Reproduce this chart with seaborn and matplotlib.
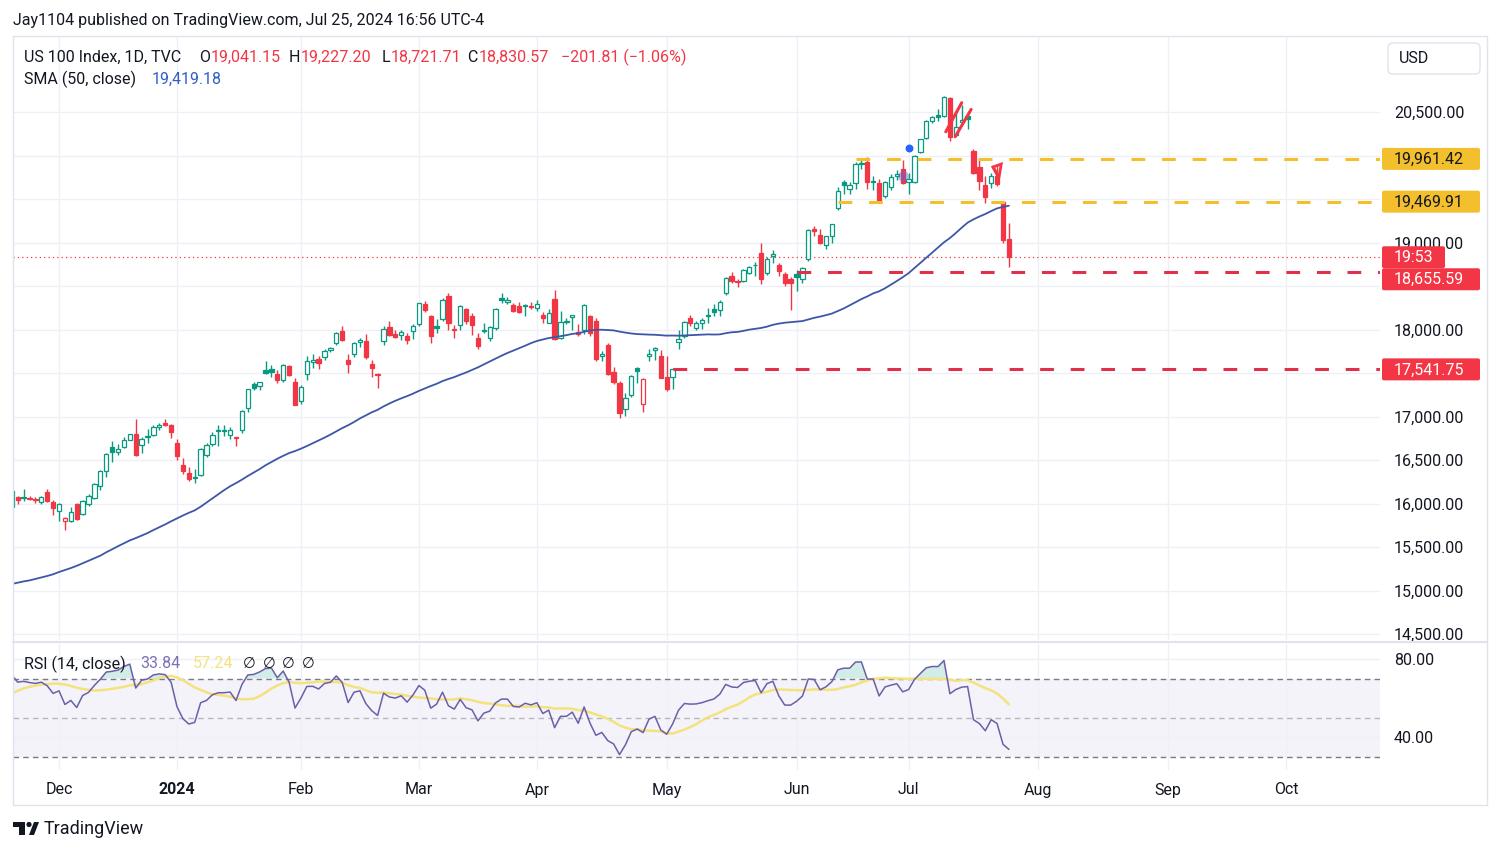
import numpy as np
import pandas as pd
import matplotlib
matplotlib.use('Agg')
import matplotlib.pyplot as plt
from matplotlib.patches import Rectangle, FancyBboxPatch, Polygon
import seaborn as sns

# daily closes before the visible window (2023-09-01 .. 2023-11-17), only used to warm up SMA / RSI
pre_closes = [15413, 15440, 15298, 15207, 15227,
              15461, 15277, 15365, 15475, 15202,
              15211, 15185, 14969, 14694, 14701,
              14769, 14546, 14580, 14706, 14715,
              14880, 14627, 14866, 14828, 15082,
              15135, 15218, 15328, 15303, 15125,
              15308, 15254, 15047, 14893, 14690,
              14732, 14895, 14544, 14280, 14351,
              14521, 14410,
              14666, 14912, 15099,
              15180, 15385, 15421, 15288, 15624,
              15573, 15894, 15903, 15985, 15968]

# visible window 2023-11-20 .. 2024-07-25, one line per month
opens = [15960, 16075, 16080, 16060, 16040, 16020, 16130, 16020,
         15910, 15800, 15800, 15990, 15880, 15990, 16060, 16200, 16370, 16650, 16590, 16650, 16730, 16800, 16670, 16760, 16790, 16880, 16920, 16900,
         16700, 16440, 16350, 16290, 16330, 16560, 16680, 16840, 16850, 16790, 16750, 16840, 17100, 17370, 17350, 17540, 17550, 17490, 17420, 17580, 17400,
         17180, 17490, 17630, 17660, 17680, 17760, 17840, 17980, 17650, 17720, 17860, 17870, 17600, 17480, 17870, 18030, 17950, 17940, 17930, 17980,
         18060, 18290, 18160, 18040, 18120, 18380, 18000, 18050, 18240, 18150, 17900, 18000, 17900, 18020, 18360, 18320, 18280, 18270, 18270, 18270,
         18250, 18170, 18080, 18350, 17900, 18100, 18140, 17950, 18000, 18150, 18100, 17700, 17820, 17510, 17380, 17090, 17250, 17560, 17140, 17700, 17760, 17700,
         17450, 17450, 17860, 17920, 18130, 18020, 18080, 18160, 18240, 18220, 18420, 18620, 18550, 18560, 18650, 18740, 18880, 18650, 18840, 18740, 18640, 18580,
         18640, 18580, 18810, 19150, 19090, 18970, 19080, 19400, 19690, 19620, 19680, 19910, 19930, 19710, 19680, 19540, 19640, 19760, 19840,
         19700, 19690, 20040, 20200, 20400, 20470, 20460, 20660, 20240, 20390, 20450, 20050, 19870, 19660, 19680, 19770, 19470, 19041.15]
highs = [16165, 16085, 16170, 16085, 16080, 16090, 16170, 16045,
         16010, 15850, 15960, 16010, 16040, 16110, 16240, 16380, 16580, 16720, 16680, 16760, 16800, 16970, 16760, 16860, 16900, 16920, 16970, 16910,
         16740, 16520, 16420, 16400, 16640, 16700, 16820, 16900, 16900, 16880, 16770, 17070, 17320, 17400, 17400, 17640, 17590, 17530, 17600, 17590, 17440,
         17360, 17700, 17720, 17690, 17780, 17800, 17970, 18040, 17720, 17860, 17900, 17950, 17650, 17500, 18040, 18100, 17990, 17990, 17960, 18060,
         18310, 18330, 18170, 18120, 18360, 18420, 18050, 18280, 18250, 18190, 17960, 18070, 18040, 18250, 18420, 18370, 18310, 18320, 18290, 18320,
         18340, 18200, 18240, 18460, 18210, 18130, 18170, 18060, 18290, 18170, 18130, 17750, 17840, 17570, 17410, 17270, 17480, 17570, 17440, 17780, 17800, 17770,
         17690, 17560, 17990, 18100, 18170, 18100, 18130, 18250, 18290, 18340, 18600, 18660, 18580, 18700, 18730, 18780, 19000, 18830, 18910, 18770, 18660, 18600,
         18680, 18720, 19150, 19190, 19160, 19080, 19210, 19640, 19720, 19690, 19920, 19950, 19980, 19760, 19730, 19710, 19790, 19830, 19950,
         19800, 20010, 20190, 20410, 20450, 20530, 20690, 20670, 20500, 20580, 20490, 20080, 19970, 19770, 19800, 19890, 19480, 19227.20]
lows = [15950, 15990, 16030, 16040, 16010, 15990, 16020, 15870,
        15800, 15700, 15790, 15810, 15870, 15970, 16050, 16160, 16300, 16480, 16560, 16640, 16730, 16550, 16580, 16700, 16780, 16840, 16890, 16750,
        16500, 16340, 16260, 16230, 16320, 16540, 16660, 16660, 16780, 16740, 16660, 16810, 17050, 17300, 17300, 17490, 17450, 17380, 17400, 17460, 17130,
        17140, 17420, 17560, 17550, 17650, 17740, 17820, 17870, 17500, 17680, 17800, 17660, 17450, 17330, 17820, 17920, 17900, 17880, 17830, 17890,
        18040, 18200, 17850, 17960, 18100, 18000, 17900, 17990, 18060, 17940, 17780, 17960, 17870, 17990, 18310, 18290, 18200, 18190, 18150, 18240,
        18210, 18080, 18080, 17880, 17890, 18060, 18000, 17930, 17950, 17920, 17640, 17640, 17480, 17370, 16980, 17010, 17230, 17380, 17050, 17640, 17650, 17440,
        17290, 17320, 17780, 17900, 18040, 17990, 18010, 18080, 18160, 18160, 18400, 18530, 18490, 18550, 18640, 18620, 18520, 18630, 18760, 18620, 18500, 18220,
        18440, 18540, 18790, 19080, 18980, 18920, 19000, 19370, 19560, 19560, 19620, 19850, 19620, 19600, 19460, 19510, 19600, 19720, 19670,
        19560, 19680, 20030, 20190, 20370, 20400, 20440, 20170, 20220, 20350, 20310, 19790, 19600, 19460, 19630, 19650, 19000, 18721.71]
closes = [16142, 16044, 16069, 16053, 16043, 16072, 16033, 15948,
          15997, 15839, 15906, 15820, 16025, 16085, 16229, 16372, 16568, 16589, 16624, 16729, 16799, 16552, 16740, 16772, 16878, 16906, 16898, 16826,
          16544, 16368, 16282, 16305, 16631, 16676, 16791, 16832, 16833, 16845, 16752, 17062, 17314, 17329, 17400, 17499, 17516, 17421, 17596, 17477, 17138,
          17344, 17642, 17647, 17610, 17753, 17783, 17962, 17882, 17600, 17846, 17885, 17686, 17563, 17478, 18004, 17937, 17919, 17975, 17874, 18043,
          18302, 18229, 17921, 18017, 18339, 18077, 18008, 18266, 18095, 18051, 17808, 17986, 18034, 18240, 18339, 18339, 18211, 18201, 18280, 18255,
          18296, 18134, 18193, 17890, 18088, 18088, 18162, 17971, 18279, 17961, 17659, 17713, 17493, 17394, 17038, 17211, 17471, 17527, 17431, 17718, 17783, 17441,
          17321, 17541, 17891, 18088, 18074, 18080, 18113, 18162, 18203, 18322, 18593, 18555, 18547, 18681, 18718, 18736, 18585, 18808, 18869, 18676, 18538, 18537,
          18608, 18712, 19143, 19136, 19000, 19074, 19210, 19597, 19659, 19660, 19903, 19908, 19699, 19701, 19473, 19701, 19751, 19790, 19683,
          19735, 19998, 20186, 20392, 20440, 20440, 20676, 20211, 20332, 20403, 20420, 19800, 19706, 19522, 19764, 19668, 19033, 18830.57]

holidays = ['2023-09-04', '2023-11-23', '2023-12-25', '2024-01-01', '2024-01-15',
            '2024-02-19', '2024-03-29', '2024-05-27', '2024-06-19', '2024-07-04',
            '2024-09-02', '2024-11-28', '2024-12-25']

# horizontal levels drawn by the author
levels = [19961.42, 19469.91, 18655.59, 17541.75]
level_from = ['2024-06-17', '2024-06-12', '2024-06-03', '2024-05-02']
level_kind = ['yellow', 'yellow', 'red', 'red']

months = ['2023-12', '2024-01', '2024-02', '2024-03', '2024-04', '2024-05',
          '2024-06', '2024-07', '2024-08', '2024-09', '2024-10']
month_labels = ['Dec', '2024', 'Feb', 'Mar', 'Apr', 'May', 'Jun', 'Jul', 'Aug', 'Sep', 'Oct']

# price scale labels hidden behind the level tags
hidden_ticks = [20000, 19500, 18500, 17500]

GREEN = '#089981'
RED = '#f23645'
YELLOW = '#f4bf2c'
SMA_BLUE = '#3d57a6'
RSI_COL = '#6b5fa8'
RSI_MA = '#f3e27e'
TXT = '#131722'
GRID = '#eef0f5'
BORDER = '#e0e3eb'

# trading calendar -> bar index (0 = 2023-11-20)
cal = pd.bdate_range('2023-09-01', '2024-12-31')
cal = cal[~cal.isin(pd.to_datetime(holidays))]
n_pre = len(pre_closes)
pos = {d.strftime('%Y-%m-%d'): i - n_pre for i, d in enumerate(cal)}

all_close = pd.Series(pre_closes + closes, dtype=float)
sma = all_close.rolling(50).mean()
delta = all_close.diff()
gain = delta.clip(lower=0).ewm(alpha=1 / 14, adjust=False).mean()
loss = (-delta.clip(upper=0)).ewm(alpha=1 / 14, adjust=False).mean()
rsi = 100 - 100 / (1 + gain / loss)
rsi_ma = rsi.rolling(14).mean()

n = len(closes)
df = pd.DataFrame({'date': cal[n_pre:n_pre + n], 'x': np.arange(n),
                   'open': opens, 'high': highs, 'low': lows, 'close': closes,
                   'sma': sma.values[n_pre:], 'rsi': rsi.values[n_pre:],
                   'rsi_ma': rsi_ma.values[n_pre:]})

sns.set_theme(style='white')
plt.rcParams['font.family'] = ['Roboto', 'DejaVu Sans']

W, H = 1500, 852
fig = plt.figure(figsize=(15, 8.52), dpi=100)


def box(x0, y0, x1, y1):
    return [x0 / W, 1 - y1 / H, (x1 - x0) / W, (y1 - y0) / H]


ax = fig.add_axes(box(13, 36, 1380, 640))
rax = fig.add_axes(box(13, 643, 1380, 770), sharex=ax)
ov = fig.add_axes([0, 0, 1, 1])
ov.set_xlim(0, W)
ov.set_ylim(H, 0)
ov.axis('off')
ov.patch.set_alpha(0)

XMIN, XMAX = 0.2, 231.9
ax.set_xlim(XMIN, XMAX)
ax.set_ylim(14431, 21374)
rax.set_ylim(23.1, 88.2)

# candles (hollow when close > open, colour by change vs previous close)
prev = np.array([pre_closes[-1]] + closes[:-1])
c = df['close'].values
o = df['open'].values
edge = np.where(c >= prev, GREEN, RED)
face = np.where(c > o, 'white', edge)
ax.vlines(df['x'], df['low'], df['high'], colors=edge, linewidth=1.0, zorder=2)
ax.bar(df['x'], np.maximum(np.abs(c - o), 10), bottom=np.minimum(o, c), width=0.72,
       color=face, edgecolor=edge, linewidth=0.9, zorder=3)

sns.lineplot(data=df, x='x', y='sma', ax=ax, color=SMA_BLUE, linewidth=1.3, legend=False, zorder=4)

# author's levels
for lv, start, kind in zip(levels, level_from, level_kind):
    col = YELLOW if kind == 'yellow' else '#e0304a'
    ax.plot([pos[start], XMAX], [lv, lv], color=col, linewidth=2.2,
            linestyle=(0, (4.5, 5.5)), zorder=5, solid_capstyle='butt')
ax.axhline(closes[-1], color=RED, linewidth=0.9, linestyle=(0, (1, 2.5)), zorder=1)

# hand-drawn marks
d = pos
ax.plot([d['2024-07-10'] + 0.3, d['2024-07-15']], [20273, 20607], color=RED, lw=2.2, zorder=6)
ax.plot([d['2024-07-11'] + 0.9, d['2024-07-16'] + 0.6], [20216, 20530], color=RED, lw=2.2, zorder=6)
ax.add_patch(Polygon([(d['2024-07-22'] + 0.3, 19868), (d['2024-07-23'] + 0.7, 19902),
                      (d['2024-07-23'] + 0.3, 19741)], closed=True, fill=False,
                     edgecolor=RED, lw=2, zorder=6))
ax.plot([d['2024-07-22'] + 0.3, d['2024-07-23'] + 0.2], [19868, 19764], color=RED, lw=2, zorder=6)
ax.scatter([d['2024-07-01']], [20086], s=22, color='#2962ff', zorder=6)
ax.scatter([d['2024-06-28']], [19770], s=60, color='#5b6bd8', alpha=0.45, zorder=6, lw=0)

# axes styling
ticks_x = [min(v for k, v in pos.items() if k.startswith(m)) for m in months]
for a in (ax, rax):
    for s in a.spines.values():
        s.set_visible(False)
    a.set_xlabel('')
    a.set_ylabel('')
    a.set_xticks(ticks_x)
    a.grid(True, color=GRID, linewidth=1)
    a.set_axisbelow(True)

yt = np.arange(14500, 20501, 500)
ax.set_yticks(yt)
ax.set_yticklabels(['' if v in hidden_ticks else f'{v:,.2f}' for v in yt])
ax.yaxis.tick_right()
ax.tick_params(axis='y', length=0, pad=10, labelsize=11.5, labelcolor=TXT)
ax.tick_params(axis='x', length=0, labelbottom=False)

# RSI pane
rax.axhspan(30, 70, color='#7e57c2', alpha=0.07, lw=0, zorder=0)
for v, al in ((70, 1.0), (50, 0.5), (30, 1.0)):
    rax.axhline(v, color='#787b86', lw=1, linestyle=(0, (4, 3)), alpha=al, zorder=1)
rax.fill_between(df['x'], 70, df['rsi'], where=df['rsi'] > 70, interpolate=True,
                 color=GREEN, alpha=0.18, lw=0, zorder=2)
sns.lineplot(data=df, x='x', y='rsi_ma', ax=rax, color=RSI_MA, linewidth=1.8, legend=False, zorder=3)
sns.lineplot(data=df, x='x', y='rsi', ax=rax, color=RSI_COL, linewidth=1.1, legend=False, zorder=4)
rax.set_xlabel('')
rax.set_ylabel('')
rax.set_yticks([40, 80])
rax.set_yticklabels(['40.00', '80.00'])
rax.yaxis.tick_right()
rax.tick_params(axis='y', length=0, pad=10, labelsize=11.5, labelcolor=TXT)
rax.set_xticklabels(month_labels)
rax.tick_params(axis='x', length=0, pad=9, labelsize=11.5, labelcolor=TXT)
rax.get_xticklabels()[1].set_fontweight('bold')

# frame
ov.add_patch(Rectangle((13, 36), 1474, 769, fill=False, ec=BORDER, lw=1))
ov.plot([13, 1487], [641.5, 641.5], color=BORDER, lw=1.5)

# price tags on the scale


def py(price):
    return H - ax.transData.transform((0, price))[1]


def tag(yc, text, fc, tc, x1=1480):
    ov.add_patch(FancyBboxPatch((1382, yc - 11), x1 - 1382, 22, boxstyle='round,pad=0,rounding_size=2',
                                fc=fc, ec='none', zorder=5))
    ov.text(1394, yc + 0.5, text, color=tc, fontsize=11.5, va='center', ha='left', zorder=6)


tag(py(levels[0]), f'{levels[0]:,.2f}', YELLOW, TXT)
tag(py(levels[1]), f'{levels[1]:,.2f}', YELLOW, TXT)
y_now = py(closes[-1])
tag(y_now, '19:53', RED, 'white', x1=1445)
tag(max(py(levels[2]), y_now + 22), f'{levels[2]:,.2f}', RED, 'white')
tag(py(levels[3]), f'{levels[3]:,.2f}', RED, 'white')

ov.add_patch(FancyBboxPatch((1388, 43), 92, 31, boxstyle='round,pad=0,rounding_size=5',
                            fc='white', ec=BORDER, lw=1))
ov.text(1399, 58.5, 'USD', fontsize=11.5, color=TXT, va='center')

# header / legends
ov.text(13, 20, 'Jay1104 published on TradingView.com, Jul 25, 2024 16:56 UTC-4',
        fontsize=11.5, color=TXT, va='center')
legend_parts = [(24, 'US 100 Index, 1D, TVC', TXT), (199, 'O', TXT), (211, '19,041.15', RED),
                (289, 'H', TXT), (301, '19,227.20', RED), (382, 'L', TXT), (391, '18,721.71', RED),
                (467, 'C', TXT), (479, '18,830.57', RED), (561, '\u2212201.81 (\u22121.06%)', RED)]
for x, s, col in legend_parts:
    ov.text(x, 57, s, fontsize=11.5, color=col, va='center')
ov.text(24, 79, 'SMA (50, close)', fontsize=11.5, color=TXT, va='center')
ov.text(152, 79, '19,419.18', fontsize=11.5, color='#2f5fc8', va='center')
ov.text(24, 664, 'RSI (14, close)', fontsize=11.5, color=TXT, va='center', zorder=7)
ov.text(140, 664, '33.84', fontsize=11.5, color='#7e70b4', va='center', zorder=7)
ov.text(193, 664, '57.24', fontsize=11.5, color=RSI_MA, va='center', zorder=7)
for x in (243, 263, 282, 302):
    ov.text(x, 664, '\u2205', fontsize=10.5, color=TXT, va='center', zorder=7,
            family=['DejaVu Sans'])

# TradingView logo
ov.add_patch(Rectangle((13, 822), 12, 4.5, color=TXT, lw=0))
ov.add_patch(Rectangle((19, 822), 6, 13, color=TXT, lw=0))
ov.add_patch(plt.Circle((29, 824.5), 2.6, color=TXT, lw=0))
ov.add_patch(Polygon([(34, 822), (39, 822), (34, 835), (29, 835)], color=TXT, lw=0))
ov.text(44, 829, 'TradingView', fontsize=13, color=TXT, va='center')

fig.savefig('out.png', dpi=100)
